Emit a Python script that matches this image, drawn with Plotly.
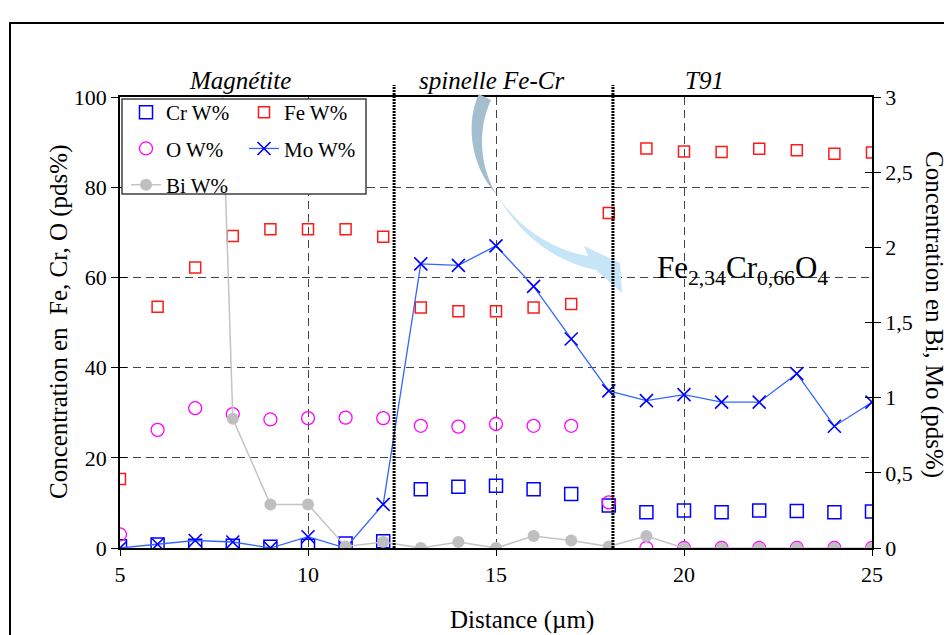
import plotly.graph_objects as go

# ---------------- data ----------------
distance = list(range(5, 26))
cr = [0.4, 0.8, 0.5, 0.5, 0.3, 0.5, 1.0, 1.5, 13.0, 13.6, 13.8, 13.0, 12.0, 9.4,
      7.9, 8.3, 7.9, 8.3, 8.2, 7.9, 8.1]
fe = [15.3, 53.5, 62.2, 69.2, 70.7, 70.7, 70.7, 69.0, 53.3, 52.5, 52.5, 53.3, 54.1,
      74.3, 88.6, 87.9, 87.8, 88.5, 88.2, 87.4, 87.7]
o = [3.0, 26.2, 31.0, 29.7, 28.5, 28.8, 28.9, 28.8, 27.1, 26.9, 27.5, 27.1, 27.1,
     10.1, 0, 0, 0, 0, 0, 0, 0]
mo = [0.0, 0.025, 0.05, 0.04, 0.0, 0.075, 0.0, 0.29, 1.89, 1.88, 2.01, 1.74, 1.39,
      1.045, 0.98, 1.02, 0.97, 0.97, 1.16, 0.81, 0.97]
bi = [None, None, 8.7, 0.86, 0.29, 0.29, 0.01, 0.04, 0.0, 0.04, 0.0, 0.08, 0.05,
      0.01, 0.08, 0, 0, 0, 0, 0, 0]

zone_bounds = [12.29, 18.11]
zone_labels = ["Magnétite", "spinelle Fe-Cr", "T91"]
left_ticks = [0, 20, 40, 60, 80, 100]
right_ticks = [0, 0.5, 1, 1.5, 2, 2.5, 3]
right_ticktext = ["0", "0,5", "1", "1,5", "2", "2,5", "3"]
x_ticks = [5, 10, 15, 20, 25]

FONT = "Liberation Serif, Times New Roman, serif"
TICKFONT = dict(family=FONT, size=22, color="black")

# page offset (default body margin) and plot-area geometry in page pixels
OFF = 8
FIG_W, FIG_H = 952 - OFF, 635 - OFF
L, R, T, B = 120, 872, 97, 548
W, H = R - L, B - T


def px(x):
    return (x - L) / W


def py(y):
    return (B - y) / H


def path(cmds):
    out = []
    for c in cmds:
        if isinstance(c, str):
            out.append(c)
        else:
            out.append(f"{px(c[0]):.5f},{py(c[1]):.5f}")
    return " ".join(out)


fig = go.Figure()

fig.add_trace(go.Scatter(
    x=distance, y=cr, name="Cr W%", mode="markers",
    marker=dict(symbol="square-open", size=13, color="#0000FF", line=dict(width=1.5)),
    legend="legend", legendgroup="cr"))
fig.add_trace(go.Scatter(
    x=distance, y=fe, name="Fe W%", mode="markers",
    marker=dict(symbol="square-open", size=11, color="#FF1A1A", line=dict(width=1.5)),
    legend="legend2", legendgroup="fe"))
fig.add_trace(go.Scatter(
    x=distance, y=o, name="O W%", mode="markers",
    marker=dict(symbol="circle-open", size=13, color="#FF00FF", line=dict(width=1.3)),
    legend="legend", legendgroup="o"))
fig.add_trace(go.Scatter(
    x=distance, y=mo, name="Mo W%", mode="lines+markers", yaxis="y2",
    line=dict(color="#3366FF", width=1.3),
    marker=dict(symbol="x-thin", size=13, color="#0000FF",
                line=dict(width=1.6, color="#0000FF")),
    legend="legend2", legendgroup="mo"))
fig.add_trace(go.Scatter(
    x=distance, y=bi, name="Bi W%", mode="lines+markers", yaxis="y2",
    line=dict(color="#C4C4C4", width=1.5),
    marker=dict(symbol="circle", size=12, color="#BFBFBF"),
    legend="legend", legendgroup="bi"))
# dummy traces so overlay tick axes are drawn
fig.add_trace(go.Scatter(x=[None], y=[None], yaxis="y3", showlegend=False, hoverinfo="skip"))
fig.add_trace(go.Scatter(x=[None], y=[None], yaxis="y4", showlegend=False, hoverinfo="skip"))

shapes = []
# outer frame
shapes.append(dict(type="rect", xref="paper", yref="paper",
                   x0=px(10), x1=px(1000), y0=py(700), y1=py(23),
                   line=dict(color="black", width=2), fillcolor="rgba(0,0,0,0)",
                   layer="above"))
# curved arrow (three parts, to mimic the gradient)
top_part = path(["M", (479, 94), "C", (466, 120), (469, 165), (497, 195),
                 "C", (481, 170), (476, 132), (491, 100), "Z"])
bot_part = path(["M", (497, 195), "C", (520, 235), (555, 262), (596, 270),
                 "L", (622, 293), "L", (620, 263), "L", (584, 246), "L", (588, 256),
                 "C", (555, 250), (522, 232), (497, 195), "Z"])
shapes.append(dict(type="path", xref="paper", yref="paper", path=top_part,
                   fillcolor="#A4BED0", line=dict(width=0), layer="above"))
shapes.append(dict(type="path", xref="paper", yref="paper", path=bot_part,
                   fillcolor="#C6E6F8", line=dict(width=0), layer="above"))
# zone boundaries (thick dotted)
for xb in zone_bounds:
    shapes.append(dict(type="line", xref="x", yref="paper", x0=xb, x1=xb,
                       y0=0, y1=py(85), line=dict(color="black", width=3, dash="2px,1px"),
                       layer="above"))
# legend box
shapes.append(dict(type="rect", xref="paper", yref="paper",
                   x0=px(122), x1=px(366), y0=py(194), y1=py(99),
                   line=dict(color="#404040", width=1.5), fillcolor="white",
                   layer="above"))

annotations = []
zone_x = [240, 491, 704]
for lab, xx in zip(zone_labels, zone_x):
    annotations.append(dict(text=f"<i>{lab}</i>", xref="paper", yref="paper",
                            x=px(xx), y=py(80), xanchor="center", yanchor="middle",
                            showarrow=False,
                            font=dict(family=FONT, size=25, color="black")))
annotations.append(dict(text="Fe<sub>2,34</sub>Cr<sub>0,66</sub>O<sub>4</sub>",
                        xref="paper", yref="paper", x=px(742), y=py(270),
                        xanchor="center", yanchor="middle",
                        showarrow=False, font=dict(family=FONT, size=31, color="black")))
annotations.append(dict(text="Concentration en  Fe, Cr, O (pds%)", xref="paper", yref="paper",
                        x=px(59), y=py(322), textangle=-90, xanchor="center", yanchor="middle",
                        showarrow=False,
                        font=dict(family=FONT, size=25, color="black")))
annotations.append(dict(text="Concentration en Bi, Mo (pds%)", xref="paper", yref="paper",
                        x=px(934), y=py(314), textangle=90, xanchor="center", yanchor="middle",
                        showarrow=False,
                        font=dict(family=FONT, size=25, color="black")))
annotations.append(dict(text="Distance (µm)", xref="paper", yref="paper",
                        x=px(522), y=py(620), xanchor="center", yanchor="middle",
                        showarrow=False,
                        font=dict(family=FONT, size=25, color="black")))

fig.update_layout(
    width=FIG_W, height=FIG_H,
    margin=dict(l=L - OFF, r=FIG_W - (R - OFF), t=T - OFF, b=FIG_H - (B - OFF), pad=0),
    paper_bgcolor="white", plot_bgcolor="white",
    font=dict(family=FONT, size=22, color="black"),
    showlegend=True,
    xaxis=dict(range=[5, 25], tickvals=x_ticks, showline=True, linecolor="black",
               linewidth=1.5, mirror=True, ticks="outside", ticklen=6, tickcolor="black",
               showgrid=True, gridcolor="#444444", griddash="8px,5px", gridwidth=1,
               zeroline=False, tickfont=TICKFONT),
    yaxis=dict(range=[0, 100], tickvals=left_ticks, showline=True, linecolor="black",
               linewidth=1.5, ticks="outside", ticklen=7, tickcolor="black",
               showgrid=True, gridcolor="#444444", griddash="8px,5px", gridwidth=1,
               zeroline=False, tickfont=TICKFONT),
    yaxis2=dict(range=[0, 3], tickvals=right_ticks, ticktext=right_ticktext,
                overlaying="y", side="right", showline=True, linecolor="black",
                linewidth=1.5, ticks="outside", ticklen=7, tickcolor="black",
                showgrid=False, zeroline=False, tickfont=TICKFONT),
    yaxis3=dict(range=[0, 100], tickvals=left_ticks, overlaying="y", side="left",
                ticks="inside", ticklen=7, tickcolor="black", showticklabels=False,
                showgrid=False, zeroline=False, showline=False),
    yaxis4=dict(range=[0, 3], tickvals=right_ticks, overlaying="y", side="right",
                ticks="inside", ticklen=7, tickcolor="black", showticklabels=False,
                showgrid=False, zeroline=False, showline=False),
    legend=dict(x=px(126), y=py(92), xanchor="left", yanchor="top",
                bgcolor="rgba(0,0,0,0)", borderwidth=0, tracegroupgap=6,
                font=dict(family=FONT, size=21, color="black"), itemsizing="trace"),
    legend2=dict(x=px(244), y=py(92), xanchor="left", yanchor="top",
                 bgcolor="rgba(0,0,0,0)", borderwidth=0, tracegroupgap=6,
                 font=dict(family=FONT, size=21, color="black"), itemsizing="trace"),
    shapes=shapes,
    annotations=annotations,
)

fig.write_html("out.html")
